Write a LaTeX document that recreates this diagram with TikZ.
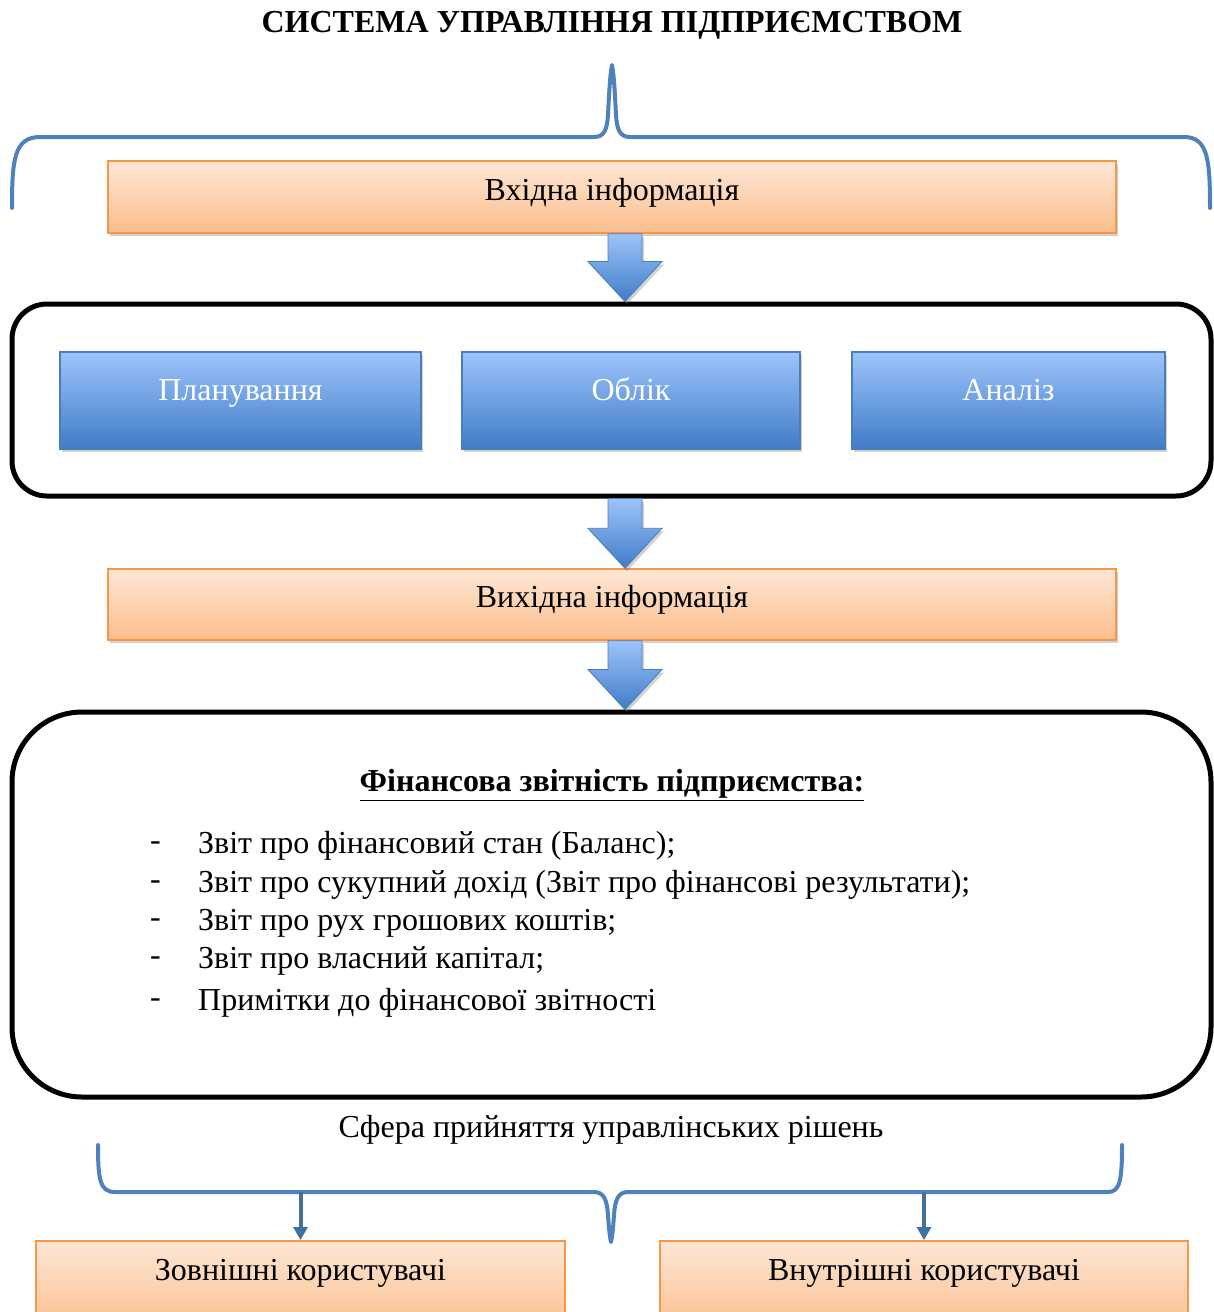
\documentclass[tikz,border=0pt]{standalone}
\usepackage{fontspec}
\setmainfont{Liberation Serif}
\usetikzlibrary{calc,shadows,arrows.meta}

\definecolor{orangetop}{RGB}{253,231,214}
\definecolor{orangebot}{RGB}{251,190,140}
\definecolor{orangeedge}{RGB}{247,150,70}
\definecolor{bluetop}{RGB}{157,196,250}
\definecolor{bluebot}{RGB}{64,124,200}
\definecolor{blueedge}{RGB}{74,126,187}
\definecolor{bracecol}{RGB}{79,129,189}
\definecolor{usrarrow}{RGB}{65,113,156}

\tikzset{
  softshadow/.style={drop shadow={shadow xshift=2pt,shadow yshift=-3pt,opacity=0.3,fill=black!60}},
  infobox/.style={draw=orangeedge,line width=1.5pt,top color=orangetop,bottom color=orangebot,
    softshadow,minimum width=1008pt,inner sep=0pt,text height=39pt,text depth=33pt},
  stagebox/.style={draw=blueedge,line width=1.2pt,top color=bluetop,bottom color=bluebot,
    softshadow,inner sep=0pt,text height=48pt,text depth=49pt,text=white},
  frame/.style={draw=black,line width=5pt,minimum width=1199pt},
  brace/.style={draw=bracecol,line width=4pt,line cap=round,line join=round},
  arrowfill/.style={draw=blueedge,line width=0.8pt,top color=bluetop,bottom color=bluebot,softshadow},
  usrbox/.style={draw=orangeedge,line width=1.5pt,top color=orangetop,bottom color=orangebot,
    inner sep=0pt,text height=40pt,text depth=51pt,anchor=north},
  listtext/.style={anchor=west,inner sep=0pt}
}

\newcommand{\flowarrow}[2]{%
  \path[arrowfill] ($(#1)+(-17,0)$) -- ($(#1)+(17,0)$) -- ($(#2)+(17,-40)$) -- ($(#2)+(37,-40)$)
    -- (#2) -- ($(#2)+(-37,-40)$) -- ($(#2)+(-17,-40)$) -- cycle;}

\begin{document}
\begin{tikzpicture}[x=1pt,y=-1pt,font=\fontsize{32}{38}\selectfont]
\useasboundingbox (0,0) rectangle (1213,1312);

% title and upper brace
\node[font=\fontsize{32}{38}\selectfont\bfseries] (title) at (612,25) {СИСТЕМА УПРАВЛІННЯ ПІДПРИЄМСТВОМ};

\draw[brace] (12,208) .. controls (12,160) and (14,137) .. (40,137) -- (594,137)
  .. controls (604,137) and (607,130) .. (608,115) .. controls (609,95) and (610,75) .. (612,65)
  .. controls (614,75) and (615,95) .. (616,115) .. controls (617,130) and (620,137) .. (630,137)
  -- (1184,137) .. controls (1208,137) and (1210,160) .. (1210,208);

% input information
\node[infobox] (inp) at (612,197) {Вхідна інформація};

% management functions
\node[frame,rounded corners=35pt,minimum height=192pt] (sys) at (611.5,400) {};
\node[stagebox,minimum width=361pt] (plan) at (240.5,400.5) {Планування};
\node[stagebox,minimum width=338pt] (obl) at (631,400.5) {Облік};
\node[stagebox,minimum width=313pt] (anal) at (1008.5,400.5) {Аналіз};

% output information
\node[infobox,text height=38pt] (outp) at (612,604.5) {Вихідна інформація};

% financial statements
\node[frame,rounded corners=70pt,minimum height=385pt] (fin) at (611.5,904.5) {};
\node[font=\fontsize{32}{38}\selectfont\bfseries] (finhead) at (612,785) {\underline{Фінансова звітність підприємства:}};

\foreach \yy/\txt [count=\i] in {846/{Звіт про фінансовий стан (Баланс);},
    885/{Звіт про сукупний дохід (Звіт про фінансові результати);},
    923/{Звіт про рух грошових коштів;},
    961/{Звіт про власний капітал;},
    1003/{Примітки до фінансової звітності}}
{
  \node[listtext] (dash\i) at (150,\yy) {-};
  \node[listtext] (item\i) at (198,\yy) {\txt};
}

% block arrows
\coordinate (a1top) at ($(inp.south)+(13,0)$);
\coordinate (a1tip) at (sys.north -| a1top);
\coordinate (a2top) at (sys.south -| a1top);
\coordinate (a2tip) at (outp.north -| a1top);
\coordinate (a3top) at (outp.south -| a1top);
\coordinate (a3tip) at (fin.north -| a1top);
\flowarrow{a1top}{a1tip}
\flowarrow{a2top}{a2tip}
\flowarrow{a3top}{a3tip}

% decision sphere and users
\node (sphere) at (611,1130) {Сфера прийняття управлінських рішень};

\draw[brace] (98,1145) .. controls (98,1180) and (100,1192) .. (115,1192) -- (594,1192)
  .. controls (604,1192) and (607,1200) .. (608,1215) .. controls (609,1230) and (610,1238) .. (611,1242)
  .. controls (612,1238) and (613,1230) .. (614,1215) .. controls (615,1200) and (618,1192) .. (628,1192)
  -- (1108,1192) .. controls (1120,1192) and (1122,1180) .. (1122,1145);

\node[usrbox,minimum width=529pt] (ext) at (300.5,1240) {Зовнішні користувачі};
\node[usrbox,minimum width=528pt] (int) at (924,1240) {Внутрішні користувачі};

\coordinate (extfrom) at (ext.north |- 0,1192);
\coordinate (intfrom) at (int.north |- 0,1192);
\draw[draw=usrarrow,line width=4pt,-{Triangle[width=14pt,length=13pt]}] (extfrom) -- (ext.north);
\draw[draw=usrarrow,line width=4pt,-{Triangle[width=14pt,length=13pt]}] (intfrom) -- (int.north);

\end{tikzpicture}
\end{document}
